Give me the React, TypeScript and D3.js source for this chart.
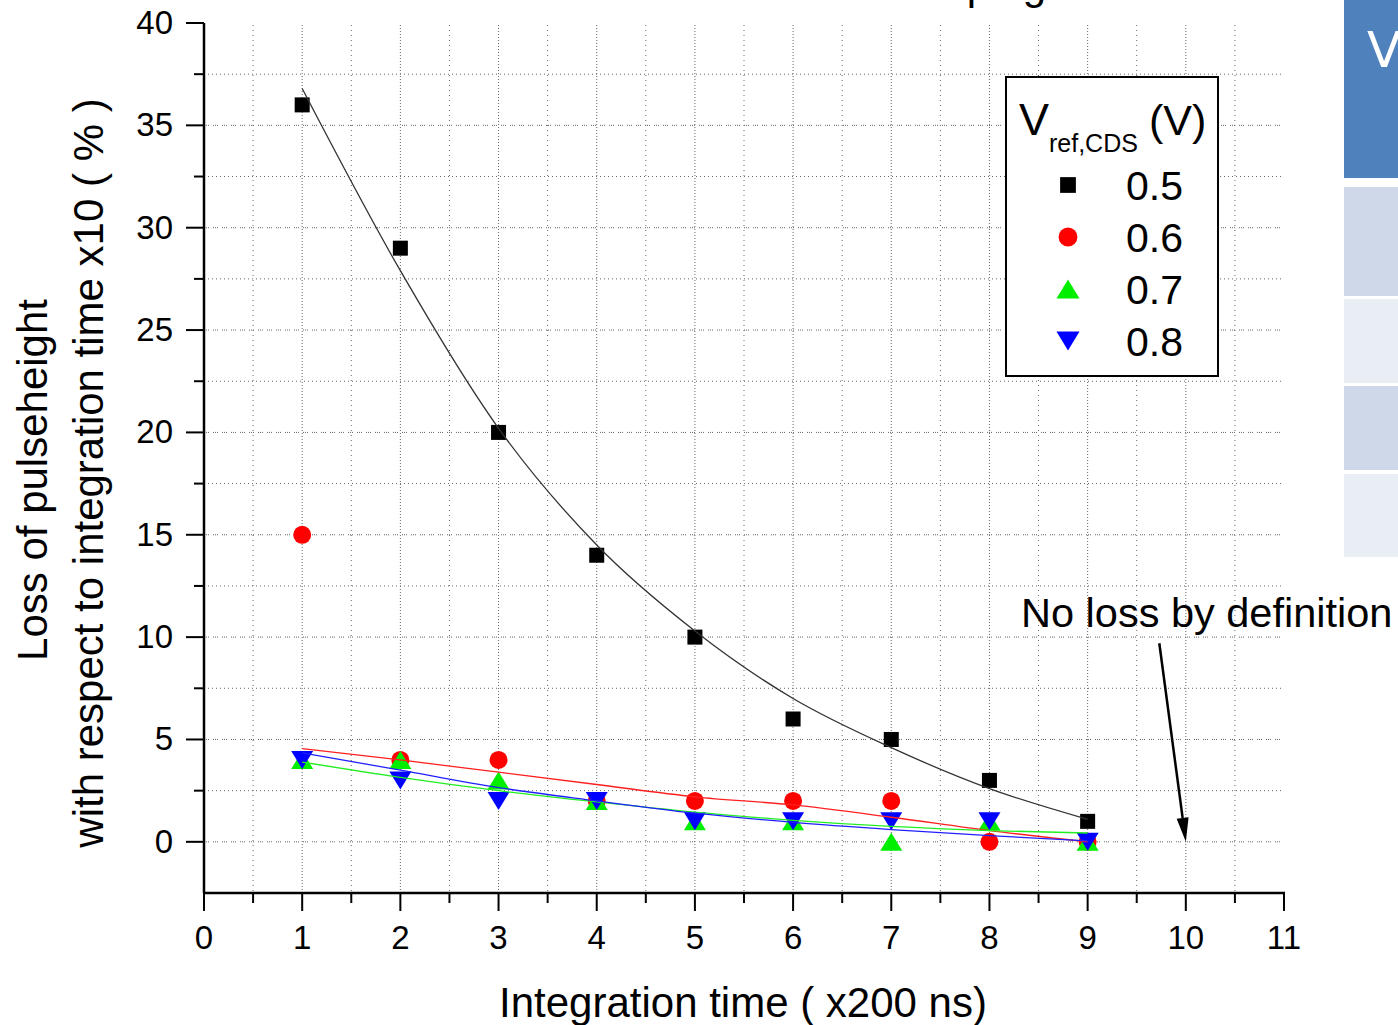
import React from "react";
import * as d3 from "d3";

// integration time (x200 ns)
const xValues = [1, 2, 3, 4, 5, 6, 7, 8, 9];

// loss of pulseheight per Vref,CDS setting
const loss05 = [36, 29, 20, 14, 10, 6, 5, 3, 1];
const loss06 = [15, 4, 4, 2, 2, 2, 2, 0, 0];
const loss07 = [4, 4, 3, 2, 1, 1, 0, 1, 0];
const loss08 = [4, 3, 2, 2, 1, 1, 1, 1, 0];

// fit curves
const fit05 = [36.8, 27.9, 20.2, 14.5, 10.3, 7.0, 4.6, 2.6, 1.1];
const fit06 = [4.55, 4.0, 3.4, 2.8, 2.2, 1.8, 1.2, 0.55, 0.0];
const fit07 = [3.9, 3.15, 2.5, 1.95, 1.45, 1.05, 0.75, 0.55, 0.43];
const fit08 = [4.35, 3.5, 2.65, 2.0, 1.4, 0.95, 0.6, 0.3, 0.05];

const legendLabels = ["0.5", "0.6", "0.7", "0.8"];
const xTickValues = [0, 1, 2, 3, 4, 5, 6, 7, 8, 9, 10, 11];
const yTickValues = [0, 5, 10, 15, 20, 25, 30, 35, 40];

const arrowFrom = [9.73, 9.7];
const arrowTo = [10, 0];

const W = 1398;
const H = 1025;
const FONT = "'Liberation Sans', Arial, sans-serif";

const x = d3.scaleLinear().domain([0, 11]).range([204, 1284]);
const y = d3.scaleLinear().domain([-2.5, 40]).range([893, 23]);

type Shape = "square" | "circle" | "up" | "down";

const series: { values: number[]; fit: number[]; color: string; line: string; shape: Shape }[] = [
  { values: loss05, fit: fit05, color: "#000000", line: "#333333", shape: "square" },
  { values: loss06, fit: fit06, color: "#ff0000", line: "#ff2020", shape: "circle" },
  { values: loss07, fit: fit07, color: "#00ee00", line: "#20ee20", shape: "up" },
  { values: loss08, fit: fit08, color: "#0000ff", line: "#2020ff", shape: "down" },
];

function Marker({ cx, cy, shape, color, s = 1 }: { cx: number; cy: number; shape: Shape; color: string; s?: number }) {
  if (shape === "square") {
    const a = 15 * s;
    return <rect x={cx - a / 2} y={cy - a / 2} width={a} height={a} fill={color} />;
  }
  if (shape === "circle") return <circle cx={cx} cy={cy} r={9 * s} fill={color} />;
  const w = 11 * s;
  const h = 9 * s;
  const d =
    shape === "up"
      ? `M${cx},${cy - h}L${cx + w},${cy + h}L${cx - w},${cy + h}Z`
      : `M${cx},${cy + h}L${cx + w},${cy - h}L${cx - w},${cy - h}Z`;
  return <path d={d} fill={color} />;
}

export default function App() {
  const line = d3
    .line<[number, number]>()
    .x((d) => x(d[0]))
    .y((d) => y(d[1]))
    .curve(d3.curveMonotoneX);

  const xGrid = d3.range(1, 22).map((i) => i / 2);
  const yGrid = d3.range(0, 16).map((i) => i * 2.5);
  const xMinor = d3.range(1, 22, 2).map((i) => i / 2);
  const yMinor = d3.range(-1, 16, 2).map((i) => i * 2.5).filter((v) => v > -2.5);

  // arrow geometry
  const ax0 = x(arrowFrom[0]);
  const ay0 = y(arrowFrom[1]);
  const ax1 = x(arrowTo[0]);
  const ay1 = y(arrowTo[1]);
  const len = Math.hypot(ax1 - ax0, ay1 - ay0);
  const ux = (ax1 - ax0) / len;
  const uy = (ay1 - ay0) / len;
  const headL = 24;
  const headW = 6;
  const bx = ax1 - ux * headL;
  const by = ay1 - uy * headL;

  return (
    <svg
      width={W}
      height={H}
      style={{ position: "absolute", left: 0, top: 0, background: "#fff" }}
      fontFamily={FONT}
    >
      {/* slide remnants on the right */}
      <rect x={1344} y={0} width={54} height={178} fill="#4f81bd" />
      <text x={1367} y={67} fontSize={50} fill="#fff" fontFamily="'DejaVu Sans', sans-serif">V</text>
      <rect x={1344} y={187} width={54} height={109} fill="#cfd8e8" />
      <rect x={1344} y={299} width={54} height={84} fill="#e9edf4" />
      <rect x={1344} y={386} width={54} height={84} fill="#cfd8e8" />
      <rect x={1344} y={474} width={54} height={83} fill="#e9edf4" />
      <text x={892} y={-1} fontSize={42}>Shaping time</text>

      {/* grid */}
      {xGrid.map((v) => (
        <line
          key={"gx" + v}
          x1={x(v)}
          x2={x(v)}
          y1={y(40) + 2}
          y2={y(-2.5)}
          stroke="#666"
          strokeWidth={1}
          strokeDasharray={Number.isInteger(v) ? "1,2" : "1,4"}
        />
      ))}
      {yGrid.map((v) => (
        <line
          key={"gy" + v}
          x1={x(0)}
          x2={x(11)}
          y1={y(v)}
          y2={y(v)}
          stroke="#666"
          strokeWidth={1}
          strokeDasharray={v % 5 === 0 ? "1,1,1,1,1,4" : "1,3"}
        />
      ))}

      {/* markers */}
      {series.map((s, si) =>
        s.values.map((v, i) => (
          <Marker key={si + "-" + i} cx={x(xValues[i])} cy={y(v)} shape={s.shape} color={s.color} />
        ))
      )}

      {/* fit curves */}
      {series.map((s, si) => (
        <path
          key={"fit" + si}
          d={line(s.fit.map((v, i) => [xValues[i], v] as [number, number])) || ""}
          fill="none"
          stroke={s.line}
          strokeWidth={1.3}
        />
      ))}

      {/* axes */}
      <line x1={x(0)} x2={x(0)} y1={y(40)} y2={y(-2.5)} stroke="#000" strokeWidth={2.5} />
      <line x1={x(0) - 1} x2={x(11) + 1} y1={y(-2.5)} y2={y(-2.5)} stroke="#000" strokeWidth={2.5} />
      {xTickValues.map((v) => (
        <g key={"xt" + v}>
          <line x1={x(v)} x2={x(v)} y1={y(-2.5)} y2={y(-2.5) + 18} stroke="#000" strokeWidth={2} />
          <text x={x(v)} y={949} fontSize={33} textAnchor="middle">{v}</text>
        </g>
      ))}
      {xMinor.map((v) => (
        <line key={"xm" + v} x1={x(v)} x2={x(v)} y1={y(-2.5)} y2={y(-2.5) + 10} stroke="#000" strokeWidth={2} />
      ))}
      {yTickValues.map((v) => (
        <g key={"yt" + v}>
          <line x1={x(0) - 18} x2={x(0)} y1={y(v)} y2={y(v)} stroke="#000" strokeWidth={2} />
          <text x={173} y={y(v) + 11} fontSize={33} textAnchor="end">{v}</text>
        </g>
      ))}
      {yMinor.map((v) => (
        <line key={"ym" + v} x1={x(0) - 10} x2={x(0)} y1={y(v)} y2={y(v)} stroke="#000" strokeWidth={2} />
      ))}

      {/* axis titles */}
      <text x={743} y={1017} fontSize={42} textAnchor="middle">Integration time ( x200 ns)</text>
      <text transform="translate(47,480) rotate(-90)" fontSize={42} textAnchor="middle">Loss of pulseheight</text>
      <text transform="translate(103,473) rotate(-90)" fontSize={42} textAnchor="middle">
        with respect to integration time x10 ( % )
      </text>

      {/* annotation */}
      <text x={1021} y={627} fontSize={41.5}>No loss by definition</text>
      <line x1={ax0} y1={ay0} x2={bx} y2={by} stroke="#000" strokeWidth={2.5} />
      <path
        d={`M${ax1},${ay1}L${bx - uy * headW},${by + ux * headW}L${bx + uy * headW},${by - ux * headW}Z`}
        fill="#000"
      />

      {/* legend */}
      <rect x={1006} y={77} width={212} height={299} fill="#fff" stroke="#000" strokeWidth={2} />
      <text x={1019} y={135} fontSize={45}>V</text>
      <text x={1049} y={152} fontSize={25}>ref,CDS</text>
      <text x={1149} y={135} fontSize={43}>(V)</text>
      {series.map((s, i) => {
        const cy = 185 + i * 52;
        return (
          <g key={"lg" + i}>
            <Marker cx={1068} cy={cy} shape={s.shape} color={s.color} s={1.05} />
            <text x={1126} y={cy + 15} fontSize={41}>{legendLabels[i]}</text>
          </g>
        );
      })}
    </svg>
  );
}
